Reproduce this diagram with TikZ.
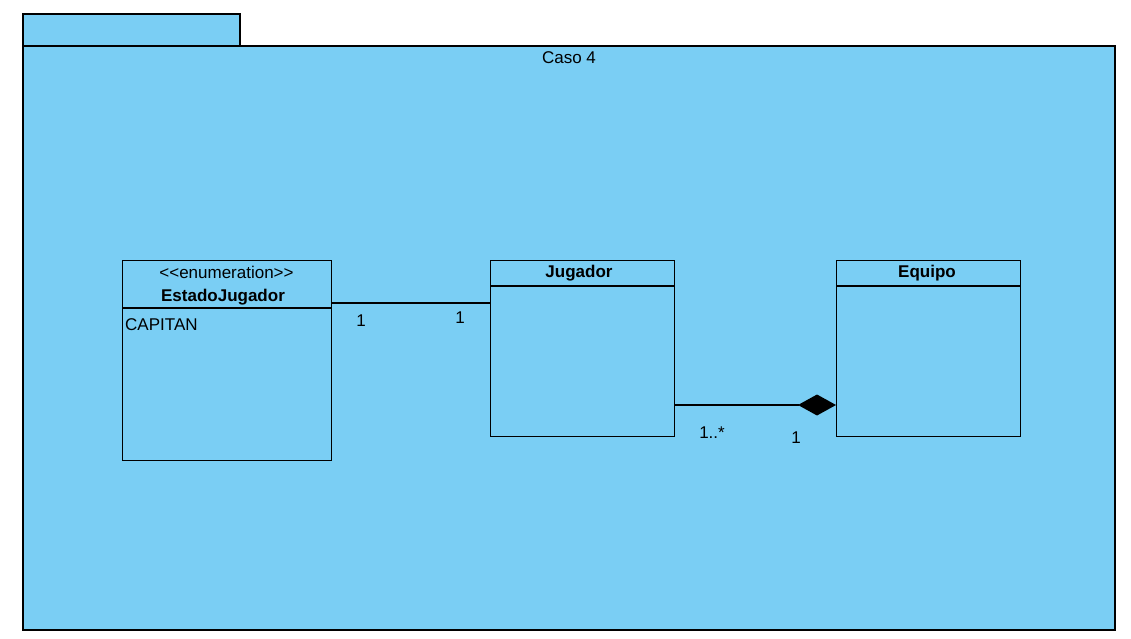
\documentclass[tikz,border=0pt]{standalone}
\usepackage{fontspec}
\setmainfont{Liberation Sans}
\usetikzlibrary{calc,arrows.meta}
\definecolor{pkgblue}{RGB}{122,206,244}
\tikzset{
	classbox/.style={draw=black, line width=1.3pt, anchor=north west, inner sep=0pt},
	umltext/.style={font=\fontsize{17}{20}\selectfont, inner sep=0pt},
	umlbold/.style={font=\fontsize{17}{20}\selectfont\bfseries, inner sep=0pt},
	composite/.style={line width=1.3pt, -{Diamond[length=38pt,width=21pt,fill=black]}}
}

\begin{document}
\begin{tikzpicture}[x=1pt, y=-1pt]
		%%%%% START %%%%%
		\useasboundingbox (0, 0) rectangle (1131, 639);
		
		% package
		\draw[fill=pkgblue, line width=1.3pt] (23, 14) rectangle (240, 46);
		\draw[fill=pkgblue, line width=1.3pt] (23, 46) rectangle (1115, 630);
		\node[umltext] (caso) at (569, 58) {Caso 4};
		
		% classes
		\node[classbox, minimum width=209pt, minimum height=200pt] (estado) at (122, 260) {};
		\draw[line width=1.3pt] ($(estado.north west)+(0, 48)$) -- ($(estado.north east)+(0, 48)$);
		\node[umltext] (stereo) at (226.5, 272) {{<}{<}enumeration{>}{>}};
		\node[umlbold] (estadoname) at (223, 297) {EstadoJugador};
		\node[umltext, anchor=west] (capitan) at (125, 325) {CAPITAN};
		
		\node[classbox, minimum width=184pt, minimum height=176pt] (jugador) at (490, 260) {};
		\draw[line width=1.3pt] ($(jugador.north west)+(0, 26)$) -- ($(jugador.north east)+(0, 26)$);
		\node[umlbold] (jugadorname) at (579, 273) {Jugador};
		
		\node[classbox, minimum width=184pt, minimum height=176pt] (equipo) at (836, 260) {};
		\draw[line width=1.3pt] ($(equipo.north west)+(0, 26)$) -- ($(equipo.north east)+(0, 26)$);
		\node[umlbold] (equiponame) at (927, 273) {Equipo};
		
		% associations
		\draw[line width=1.3pt] ($(estado.north east)+(0, 43)$) -- ($(jugador.north west)+(0, 43)$);
		\node[umltext] (multa) at (361, 321) {1};
		\node[umltext] (multb) at (460, 318) {1};
		
		\draw[composite] ($(jugador.north east)+(0, 145)$) -- ($(equipo.north west)+(0, 145)$);
		\node[umltext] (multc) at (712, 433) {1..*};
		\node[umltext] (multd) at (796, 438) {1};
		%%%%% END %%%%%
\end{tikzpicture}
\end{document}
